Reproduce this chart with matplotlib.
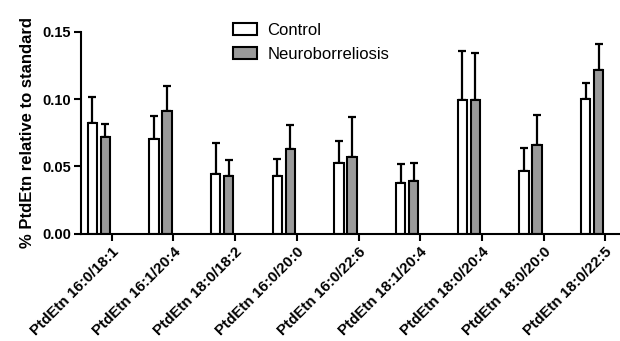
import matplotlib
matplotlib.use("Agg")
import matplotlib.pyplot as plt
import numpy as np

categories = ["PtdEtn 16:0/18:1", "PtdEtn 16:1/20:4", "PtdEtn 18:0/18:2",
              "PtdEtn 16:0/20:0", "PtdEtn 16:0/22:6", "PtdEtn 18:1/20:4",
              "PtdEtn 18:0/20:4", "PtdEtn 18:0/20:0", "PtdEtn 18:0/22:5"]
control_mean = [0.082, 0.070, 0.0446, 0.0428, 0.0525, 0.0376, 0.0995, 0.0466, 0.100]
control_top = [0.1015, 0.0876, 0.0676, 0.0555, 0.0688, 0.0518, 0.1357, 0.0639, 0.1117]
neuro_mean = [0.072, 0.0909, 0.0428, 0.0629, 0.0567, 0.0394, 0.0993, 0.0656, 0.1216]
neuro_top = [0.0815, 0.1097, 0.0545, 0.0807, 0.0867, 0.0527, 0.1342, 0.0884, 0.1411]
series_names = ["Control", "Neuroborreliosis"]
yticks = [0.00, 0.05, 0.10, 0.15]

plt.rcParams['font.family'] = ['Liberation Sans', 'DejaVu Sans']

fig = plt.figure(figsize=(6.2, 3.41), dpi=100)
ax = fig.add_axes([0.1306, 0.3147, 0.8694, 0.5923])

x = np.arange(len(categories))
w = 0.15
cm = np.array(control_mean); nm = np.array(neuro_mean)
ce = np.array(control_top) - cm
ne = np.array(neuro_top) - nm

for off, m, e in [(-0.315, cm, ce), (-0.105, nm, ne)]:
    ax.errorbar(x + off, m, yerr=[np.zeros_like(e), e], fmt='none',
                ecolor='black', elinewidth=1.6, capsize=3, capthick=1.6, zorder=1)

ax.bar(x - 0.315, cm, width=w, color='white', edgecolor='black',
       linewidth=1.5, label=series_names[0], zorder=2)
ax.bar(x - 0.105, nm, width=w, color='#9a9a9a', edgecolor='black',
       linewidth=1.5, label=series_names[1], zorder=2)

ax.set_xlim(-0.5, 8.24)
ax.set_ylim(0, 0.15)
ax.set_yticks(yticks)
ax.set_yticklabels([f"{v:.2f}" for v in yticks], fontsize=10.5, fontweight='bold')
ax.set_xticks(x)
ax.set_xticklabels(categories, rotation=45, ha='right', va='top',
                   rotation_mode='anchor', fontsize=10.9, fontweight='bold')
ax.set_ylabel("% PtdEtn relative to standard", fontsize=12, fontweight='bold', labelpad=5)

for s in ['top', 'right']:
    ax.spines[s].set_visible(False)
for s in ['left', 'bottom']:
    ax.spines[s].set_linewidth(1.5)
ax.tick_params(axis='y', direction='out', width=1.5, length=5, pad=2)
ax.tick_params(axis='x', direction='out', width=1.5, length=5, pad=3)

leg = ax.legend(loc='upper left', bbox_to_anchor=(233/620, 1 - 23/341),
                bbox_transform=fig.transFigure, frameon=False, fontsize=12,
                handlelength=1.45, handleheight=0.75, handletextpad=0.6,
                labelspacing=0.55, borderpad=0, borderaxespad=0)

fig.savefig("out.png", dpi=100)
